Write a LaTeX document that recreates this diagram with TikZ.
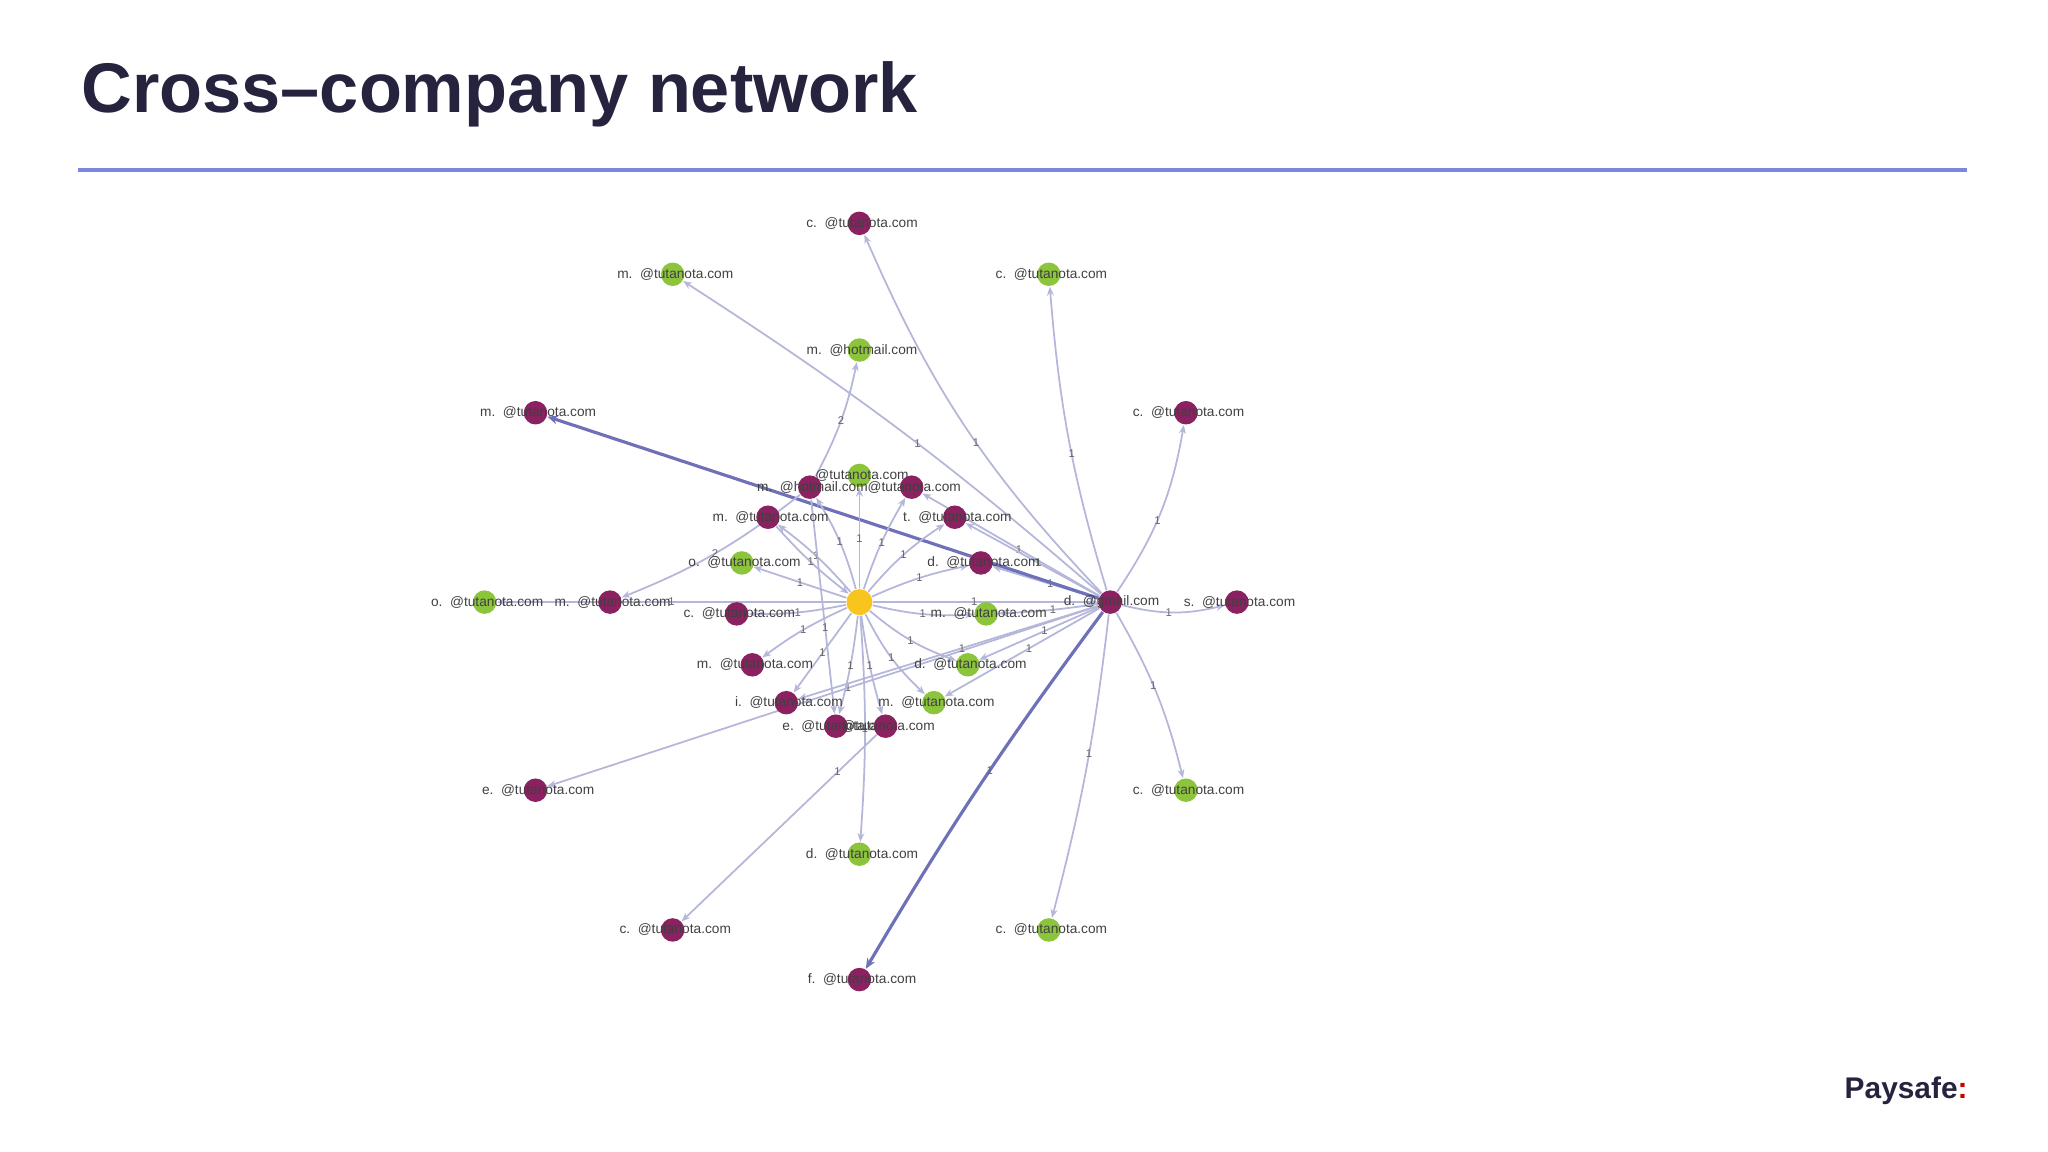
\documentclass[tikz,border=0pt]{standalone}
\usepackage{fontspec}
\setmainfont{Liberation Sans}
\usetikzlibrary{arrows.meta,backgrounds}
\definecolor{pur}{HTML}{8A2160}
\definecolor{grn}{HTML}{8CC43C}
\definecolor{yel}{HTML}{F7C51E}
\definecolor{edg}{HTML}{B4B6DA}
\definecolor{edgd}{HTML}{6E70B8}
\definecolor{ttl}{HTML}{26233F}
\definecolor{rul}{HTML}{7B86E0}
\tikzset{
 pn/.style={circle,fill=pur,inner sep=0pt,minimum size=0.235cm},
 gn/.style={circle,fill=grn,inner sep=0pt,minimum size=0.235cm},
 yn/.style={circle,fill=yel,inner sep=0pt,minimum size=0.26cm},
 lbl/.style={text=black!75,font=\fontsize{3.9}{4.5}\selectfont,inner sep=0pt},
 edge/.style={draw=edg,line width=0.5pt,-{Stealth[length=2.5pt,width=2pt]}},
 dedge/.style={draw=edgd,line width=0.9pt,-{Stealth[length=3pt,width=2.5pt]}},
 num/.style={text=black!60,font=\fontsize{3.2}{4}\selectfont,inner sep=0.5pt}
}
\begin{document}
\begin{tikzpicture}[x=0.01306cm,y=-0.01306cm]
\useasboundingbox (0,0) rectangle (1568,882);
\node[anchor=west,text=ttl,font=\fontsize{20}{22}\selectfont\bfseries,inner sep=0pt] (title) at (62,72) {Cross–company network};
\draw[rul,line width=1.3pt] (60,130) -- (1506,130);
\node[anchor=east,text=ttl,font=\fontsize{8.5}{10}\selectfont\bfseries,inner sep=0pt] (logo) at (1507,835) {Paysafe\textcolor{red!80!black}{:}};
\node[yn] (Y) at (658,461) {};
\node[pn] (G) at (850,461) {};
\node[lbl] (lG) at (851,461) {d.\ \ @gmail.com};
\foreach \n/\s/\x/\y/\t in {
1/pn/658/171/{c.\ \ @tutanota.com},
2/gn/515/210/{m.\ \ @tutanota.com},
3/gn/803/210/{c.\ \ @tutanota.com},
4/gn/658/268/{m.\ \ @hotmail.com},
5/pn/410/316/{m.\ \ @tutanota.com},
6/pn/908/316/{c.\ \ @tutanota.com},
7/gn/658/364/{@tutanota.com},
8/pn/620/373/{m.\ \ @hotmail.com},
9/pn/698/373/{@tutanota.com},
10/pn/588/396/{m.\ \ @tutanota.com},
11/pn/731/396/{t.\ \ @tutanota.com},
12/gn/568/431/{o.\ \ @tutanota.com},
13/pn/751/431/{d.\ \ @tutanota.com},
14/gn/371/461/{o.\ \ @tutanota.com},
15/pn/467/461/{m.\ \ @tutanota.com},
16/pn/564/470/{c.\ \ @tutanota.com},
17/gn/755/470/{m.\ \ @tutanota.com},
18/pn/947/461/{s.\ \ @tutanota.com},
19/pn/576/509/{m.\ \ @tutanota.com},
20/gn/741/509/{d.\ \ @tutanota.com},
21/pn/602/538/{i.\ \ @tutanota.com},
22/gn/715/538/{m.\ \ @tutanota.com},
23/pn/640/556/{e.\ \ @tutanota.com},
24/pn/678/556/{@tutanota.com},
25/pn/410/605/{e.\ \ @tutanota.com},
26/gn/908/605/{c.\ \ @tutanota.com},
27/gn/658/654/{d.\ \ @tutanota.com},
28/pn/515/712/{c.\ \ @tutanota.com},
29/gn/803/712/{c.\ \ @tutanota.com},
30/pn/658/750/{f.\ \ @tutanota.com}}{
 \node[\s] (n\n) at (\x,\y) {};
 \node[lbl] (l\n) at (\x+2,\y) {\t};
}
\begin{pgfonlayer}{background}
\foreach \b/\m/\k in {1/10/1,2/-4/1,3/6/1,6/-12/1,18/-14/1,26/8/1,29/4/1,13/0/1,17/3/1,20/0/1,22/0/1,9/0/1,11/0/1,25/0/1,21/0/1}{
 \draw[edge] (G) to[bend left=\m] node[num,pos=0.45]{\k} (n\b);
}
\draw[dedge] (G) to[bend left=-3] node[num,pos=0.45]{1} (n30);
\draw[dedge] (G) -- (n5);
\draw[edge] (Y) -- node[num,pos=0.45]{1} (G);
\foreach \b/\m in {7/0,8/-8,9/6,10/-6,11/8,12/0,13/6,14/0,16/6,17/-8,19/-6,20/-10,21/0,22/-10,23/4,24/-4,27/4}{
 \draw[edge] (Y) to[bend left=\m] node[num,pos=0.5]{1} (n\b);
}
\draw[edge] (n8) to[bend left=-8] node[num,pos=0.5]{2} (n4);
\draw[edge] (n8) to[bend left=8] node[num,pos=0.5]{2} (n15);
\draw[edge] (n8) -- node[num,pos=0.6]{1} (n23);
\draw[edge] (n24) -- node[num,pos=0.2]{1} (n28);
\draw[edge] (n10) to[bend left=-5] node[num,pos=0.5]{1} (Y);
\end{pgfonlayer}
\end{tikzpicture}
\end{document}
